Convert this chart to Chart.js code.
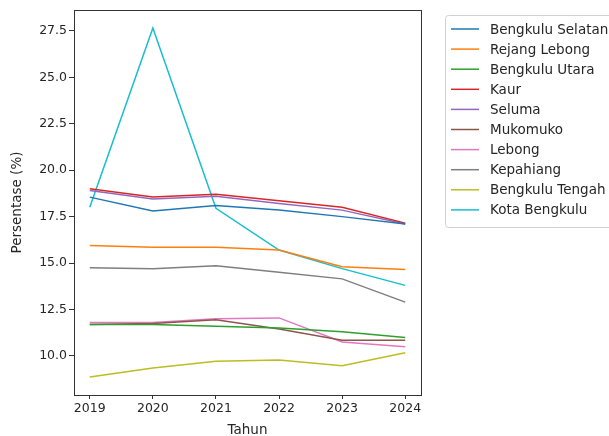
<!DOCTYPE html>
<html><head><meta charset="utf-8">
<script src="https://cdn.jsdelivr.net/npm/chart.js@4"></script>
<style>html,body{margin:0;padding:0;background:#fff;}#wrap{width:609px;height:436px;}</style>
</head><body><div id="wrap"><canvas id="c" width="609" height="436"></canvas></div>
<script>
const years = [2019, 2020, 2021, 2022, 2023, 2024];
const yTicks = [10.0, 12.5, 15.0, 17.5, 20.0, 22.5, 25.0, 27.5];
const seriesNames = ["Bengkulu Selatan","Rejang Lebong","Bengkulu Utara","Kaur","Seluma","Mukomuko","Lebong","Kepahiang","Bengkulu Tengah","Kota Bengkulu"];
const bengkuluSelatan = [18.55, 17.8, 18.1, 17.85, 17.5, 17.1];
const rejangLebong = [15.95, 15.85, 15.85, 15.7, 14.8, 14.65];
const bengkuluUtara = [11.7, 11.7, 11.6, 11.5, 11.3, 11.0];
const kaur = [19.0, 18.55, 18.7, 18.35, 18.0, 17.15];
const seluma = [18.9, 18.45, 18.6, 18.2, 17.85, 17.1];
const mukomuko = [11.7, 11.75, 11.95, 11.45, 10.85, 10.85];
const lebong = [11.8, 11.8, 12.0, 12.05, 10.75, 10.5];
const kepahiang = [14.75, 14.7, 14.85, 14.5, 14.15, 12.9];
const bengkuluTengah = [8.87, 9.35, 9.72, 9.78, 9.47, 10.17];
const kotaBengkulu = [18.0, 27.65, 17.95, 15.7, 14.7, 13.8];
const allSeries = [bengkuluSelatan, rejangLebong, bengkuluUtara, kaur, seluma, mukomuko, lebong, kepahiang, bengkuluTengah, kotaBengkulu];
const colors = ['#1f77b4','#ff7f0e','#2ca02c','#d62728','#9467bd','#8c564b','#e377c2','#7f7f7f','#bcbd22','#17becf'];

const FONT = "'DejaVu Sans', sans-serif";
const TXT = '#262626';

const framePlugin = {
  id: 'frame',
  afterDraw(chart) {
    const {ctx, chartArea: a} = chart;
    ctx.save();
    ctx.strokeStyle = '#333';
    ctx.lineWidth = 1;
    ctx.strokeRect(a.left + 0.5, a.top + 0.5, a.right - a.left, a.bottom - a.top);
    // legend
    const lx = 445, ly = 15, lw = 175, lh = 212;
    ctx.fillStyle = 'rgba(255,255,255,0.9)';
    ctx.strokeStyle = '#d0d0d0';
    ctx.beginPath();
    ctx.roundRect(lx + 0.5, ly + 0.5, lw, lh, 3);
    ctx.fill(); ctx.stroke();
    ctx.font = '13.5px ' + FONT;
    ctx.textBaseline = 'middle';
    chart.data.datasets.forEach((ds, i) => {
      const y = 29 + i * 20.1;
      ctx.strokeStyle = ds.borderColor;
      ctx.lineWidth = 1.5;
      ctx.beginPath(); ctx.moveTo(451, y); ctx.lineTo(479, y); ctx.stroke();
      ctx.fillStyle = TXT;
      ctx.fillText(ds.label, 490, y + 1);
    });
    ctx.restore();
  }
};

new Chart(document.getElementById('c'), {
  type: 'line',
  data: {
    datasets: seriesNames.map((n, i) => ({
      label: n,
      data: years.map((yr, j) => ({x: yr, y: allSeries[i][j]})),
      borderColor: colors[i],
      backgroundColor: colors[i],
      borderWidth: 1.5,
      pointRadius: 0,
      tension: 0,
      fill: false
    }))
  },
  options: {
    responsive: false,
    animation: false,
    devicePixelRatio: 1,
    layout: {padding: {left: 0, top: 10, right: 188, bottom: 0}},
    plugins: {legend: {display: false}, tooltip: {enabled: false}},
    scales: {
      x: {
        type: 'linear', min: 2018.75, max: 2024.25,
        afterBuildTicks(s) { s.ticks = years.map(v => ({value: v})); },
        afterFit(s) { s.height = 41; },
        grid: {drawOnChartArea: false, drawTicks: true, tickLength: 4, color: '#333'},
        border: {display: true, color: '#333'},
        ticks: {font: {family: FONT, size: 12.5}, color: TXT, padding: 2, maxRotation: 0, callback: v => String(v)},
        title: {display: true, text: 'Tahun', font: {family: FONT, size: 13.5}, color: TXT, padding: {top: 0, bottom: -3}}
      },
      y: {
        type: 'linear', min: 7.9, max: 28.62,
        afterBuildTicks(s) { s.ticks = yTicks.map(v => ({value: v})); },
        afterFit(s) { s.width = 74; },
        grid: {drawOnChartArea: false, drawTicks: true, tickLength: 5, color: '#333'},
        border: {display: true, color: '#333'},
        ticks: {font: {family: FONT, size: 12.5}, color: TXT, padding: 2, callback: v => v.toFixed(1)},
        title: {display: true, text: 'Persentase (%)', font: {family: FONT, size: 13.5}, color: TXT, padding: {top: 9, bottom: 0}}
      }
    }
  },
  plugins: [framePlugin]
});
</script></body></html>
